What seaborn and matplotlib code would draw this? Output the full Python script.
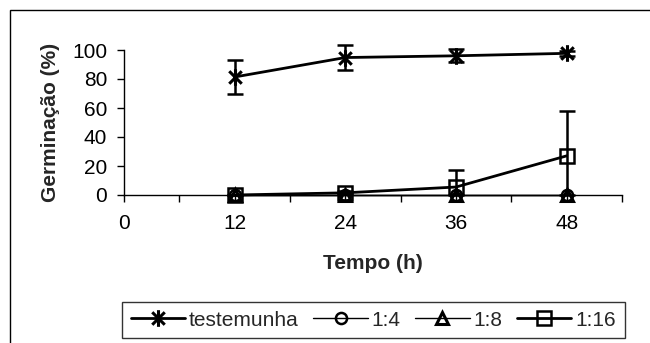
import numpy as np
import pandas as pd
import matplotlib
matplotlib.use("Agg")
import matplotlib.pyplot as plt
from matplotlib.path import Path
from matplotlib.patches import Rectangle
import seaborn as sns

# ---- data ----
tempo = [12, 24, 36, 48]
series_names = ["testemunha", "1:4", "1:8", "1:16"]
testemunha = [81.4, 94.8, 96.0, 97.7]
testemunha_err = [11.8, 8.6, 4.5, 1.5]
r1_4 = [0, 0, 0, 0]
r1_4_err = [0, 0, 0, 0]
r1_8 = [0, 0, 0, 0]
r1_8_err = [0, 0, 0, 0]
r1_16 = [0, 1.5, 5.5, 27.0]
r1_16_err = [0, 1.0, 12.0, 31.0]
xticks = [0, 6, 12, 18, 24, 30, 36, 42, 48, 54]
xticklabels = ["0", "", "12", "", "24", "", "36", "", "48", ""]
yticks = [0, 20, 40, 60, 80, 100]

sns.set_theme(style="white")
plt.rcParams["font.family"] = ["Liberation Sans", "DejaVu Sans"]

W, H = 650, 343
fig = plt.figure(figsize=(W / 100, H / 100), dpi=100)
ax = fig.add_axes([124 / W, 1 - 195 / H, (622 - 124) / W, (195 - 50) / H])

star = Path([(0, -1), (0, 1), (-0.75, -0.75), (0.75, 0.75), (-0.75, 0.75), (0.75, -0.75)],
            [Path.MOVETO, Path.LINETO, Path.MOVETO, Path.LINETO, Path.MOVETO, Path.LINETO])

styles = {
    "testemunha": dict(marker=star, ms=12, lw=2.0, mew=2.2, vals=testemunha, err=testemunha_err),
    "1:4": dict(marker="o", ms=8, lw=1.0, mew=1.8, vals=r1_4, err=r1_4_err),
    "1:8": dict(marker="^", ms=8.5, lw=1.0, mew=2.2, vals=r1_8, err=r1_8_err),
    "1:16": dict(marker="s", ms=10, lw=2.0, mew=1.8, vals=r1_16, err=r1_16_err),
}

handles = []
for name in series_names:
    st = styles[name]
    vals = np.array(st["vals"], float)
    err = np.array(st["err"], float)
    lower = np.minimum(err, vals)
    if err.max() > 0:
        eb = ax.errorbar(tempo, vals, yerr=[lower, err], fmt="none", ecolor="black",
                         elinewidth=1.8, capsize=6, capthick=1.8, zorder=3)
        for c in eb.get_children():
            c.set_clip_on(False)
    df = pd.DataFrame({"Tempo": tempo, "val": vals})
    sns.lineplot(data=df, x="Tempo", y="val", ax=ax, color="black", lw=st["lw"],
                 marker=st["marker"], markersize=st["ms"], markeredgewidth=st["mew"],
                 markerfacecolor="none", markeredgecolor="black", clip_on=False,
                 zorder=4, label=name, legend=False)
    handles.append(ax.lines[-1])

ax.set_xlim(0, 54)
ax.set_ylim(0, 100)
ax.set_xticks(xticks)
ax.set_xticklabels(xticklabels)
ax.set_yticks(yticks)
for s in ["top", "right"]:
    ax.spines[s].set_visible(False)
for s in ["left", "bottom"]:
    ax.spines[s].set_color("black")
    ax.spines[s].set_linewidth(1.0)
ax.tick_params(axis="both", direction="out", length=5, width=1, color="black",
               labelsize=15, labelcolor="black", bottom=True, left=True)
ax.tick_params(axis="x", pad=9)
ax.tick_params(axis="y", pad=7)
ax.set_xlabel("Tempo (h)", fontsize=15, fontweight="bold")
ax.set_ylabel("Germinação (%)", fontsize=15, fontweight="bold")
ax.xaxis.set_label_coords((373 - 124) / 498, (195 - 254) / 145)
ax.yaxis.set_label_coords((60 - 124) / 498, 0.5)
ax.patch.set_alpha(0)

leg = fig.legend(handles=handles, labels=series_names, ncol=4,
                 loc="center", bbox_to_anchor=((126 + 621) / 2 / W, 1 - 320 / H),
                 frameon=True, fancybox=False, edgecolor="black", fontsize=15,
                 handlelength=2.6, handletextpad=0.2, columnspacing=0.7,
                 borderpad=0.42, borderaxespad=0)
leg.get_frame().set_linewidth(1.0)

fig.patches.append(Rectangle((10 / W, -0.1), 1.0, (H - 10) / H + 0.1,
                             transform=fig.transFigure, fill=False,
                             edgecolor="black", lw=1.0))

fig.savefig("out.png", dpi=100)
